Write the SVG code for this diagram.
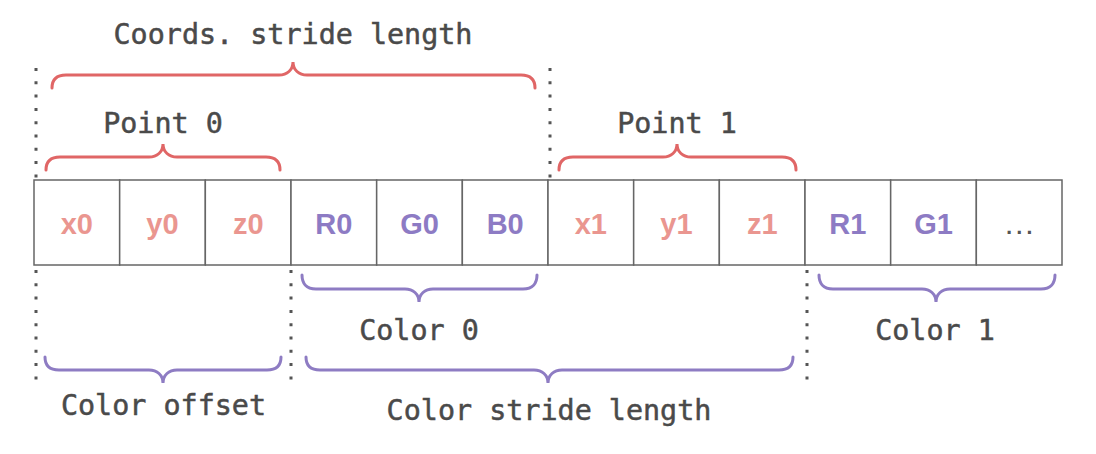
<svg xmlns="http://www.w3.org/2000/svg" width="1096" height="454" viewBox="0 0 1096 454">
<style>
.lbl{font-family:"DejaVu Sans Mono","Liberation Mono",monospace;font-size:28.4px;fill:#4a4a4a;stroke:#4a4a4a;stroke-width:0.5;text-anchor:middle}
.cell{fill:#fff;stroke:#666;stroke-width:1.5}
.ct{font-family:"Liberation Sans",Arial,sans-serif;font-weight:bold;font-size:29px;text-anchor:middle}
.pk{fill:#EA9690}
.pu{fill:#8D7BC4}
.dots{fill:none;stroke:#555;stroke-width:3;stroke-dasharray:3 10.3}
.br{fill:none;stroke-width:3;stroke-linecap:round}
.red{stroke:#E06666}
.pur{stroke:#8E7CC3}
</style>
<rect width="1096" height="454" fill="#fff"/>
<g id="cells">
<rect class="cell" x="34" y="180" width="85.67" height="85"/>
<rect class="cell" x="119.67" y="180" width="85.67" height="85"/>
<rect class="cell" x="205.33" y="180" width="85.67" height="85"/>
<rect class="cell" x="291" y="180" width="85.67" height="85"/>
<rect class="cell" x="376.67" y="180" width="85.67" height="85"/>
<rect class="cell" x="462.33" y="180" width="85.67" height="85"/>
<rect class="cell" x="548" y="180" width="85.67" height="85"/>
<rect class="cell" x="633.67" y="180" width="85.67" height="85"/>
<rect class="cell" x="719.33" y="180" width="85.67" height="85"/>
<rect class="cell" x="805" y="180" width="85.67" height="85"/>
<rect class="cell" x="890.67" y="180" width="85.67" height="85"/>
<rect class="cell" x="976.33" y="180" width="85.67" height="85"/>
<text class="ct pk" x="76.8" y="234">x0</text>
<text class="ct pk" x="162.5" y="234">y0</text>
<text class="ct pk" x="248.2" y="234">z0</text>
<text class="ct pu" x="333.8" y="234">R0</text>
<text class="ct pu" x="419.5" y="234">G0</text>
<text class="ct pu" x="505.2" y="234">B0</text>
<text class="ct pk" x="590.8" y="234">x1</text>
<text class="ct pk" x="676.5" y="234">y1</text>
<text class="ct pk" x="762.2" y="234">z1</text>
<text class="ct pu" x="847.8" y="234">R1</text>
<text class="ct pu" x="933.5" y="234">G1</text>
<text x="1019.2" y="234" font-family="Liberation Sans,Arial,sans-serif" font-size="32" fill="#555" text-anchor="middle">…</text>
</g>
<g id="connectors">
<line class="dots" x1="36" y1="68" x2="36" y2="178"/>
<line class="dots" x1="550" y1="68" x2="550" y2="178"/>
<line class="dots" x1="36" y1="270" x2="36" y2="380"/>
<line class="dots" x1="291" y1="270" x2="291" y2="380"/>
<line class="dots" x1="807" y1="270" x2="807" y2="380"/>
</g>
<g id="brace-coords">
<path class="br red" d="M52 88 C52 80 56 75 66 75 L279 75 C287 75 293 70 293 62 C293 70 299 75 307 75 L521 75 C531 75 535 80 535 88"/>
<text class="lbl" x="293" y="44">Coords. stride length</text>
</g>
<g id="brace-point0">
<path class="br red" d="M46 170 C46 162 50 157 60 157 L149 157 C157 157 163 152 163 144 C163 152 169 157 177 157 L266 157 C276 157 280 162 280 170"/>
<text class="lbl" x="163" y="133">Point 0</text>
</g>
<g id="brace-point1">
<path class="br red" d="M559 170 C559 162 563 157 573 157 L663 157 C671 157 677 152 677 144 C677 152 683 157 691 157 L782 157 C792 157 796 162 796 170"/>
<text class="lbl" x="677" y="133">Point 1</text>
</g>
<g id="brace-color0">
<path class="br pur" d="M302 275 C302 283 306 289 316 289 L405 289 C413 289 419 294 419 302 C419 294 425 289 433 289 L523 289 C533 289 537 283 537 275"/>
<text class="lbl" x="419" y="340">Color 0</text>
</g>
<g id="brace-color1">
<path class="br pur" d="M819 275 C819 283 823 289 833 289 L922 289 C930 289 936 294 936 302 C936 294 942 289 950 289 L1041 289 C1051 289 1055 283 1055 275"/>
<text class="lbl" x="935" y="340">Color 1</text>
</g>
<g id="brace-offset">
<path class="br pur" d="M45 357 C45 365 49 370 59 370 L149 370 C157 370 163 375 163 383 C163 375 169 370 177 370 L267 370 C277 370 281 365 281 357"/>
<text class="lbl" x="163.5" y="415">Color offset</text>
</g>
<g id="brace-colorstride">
<path class="br pur" d="M306 357 C306 365 310 370 320 370 L534 370 C542 370 548 375 548 383 C548 375 554 370 562 370 L779 370 C789 370 793 365 793 357"/>
<text class="lbl" x="549" y="420">Color stride length</text>
</g>
</svg>
